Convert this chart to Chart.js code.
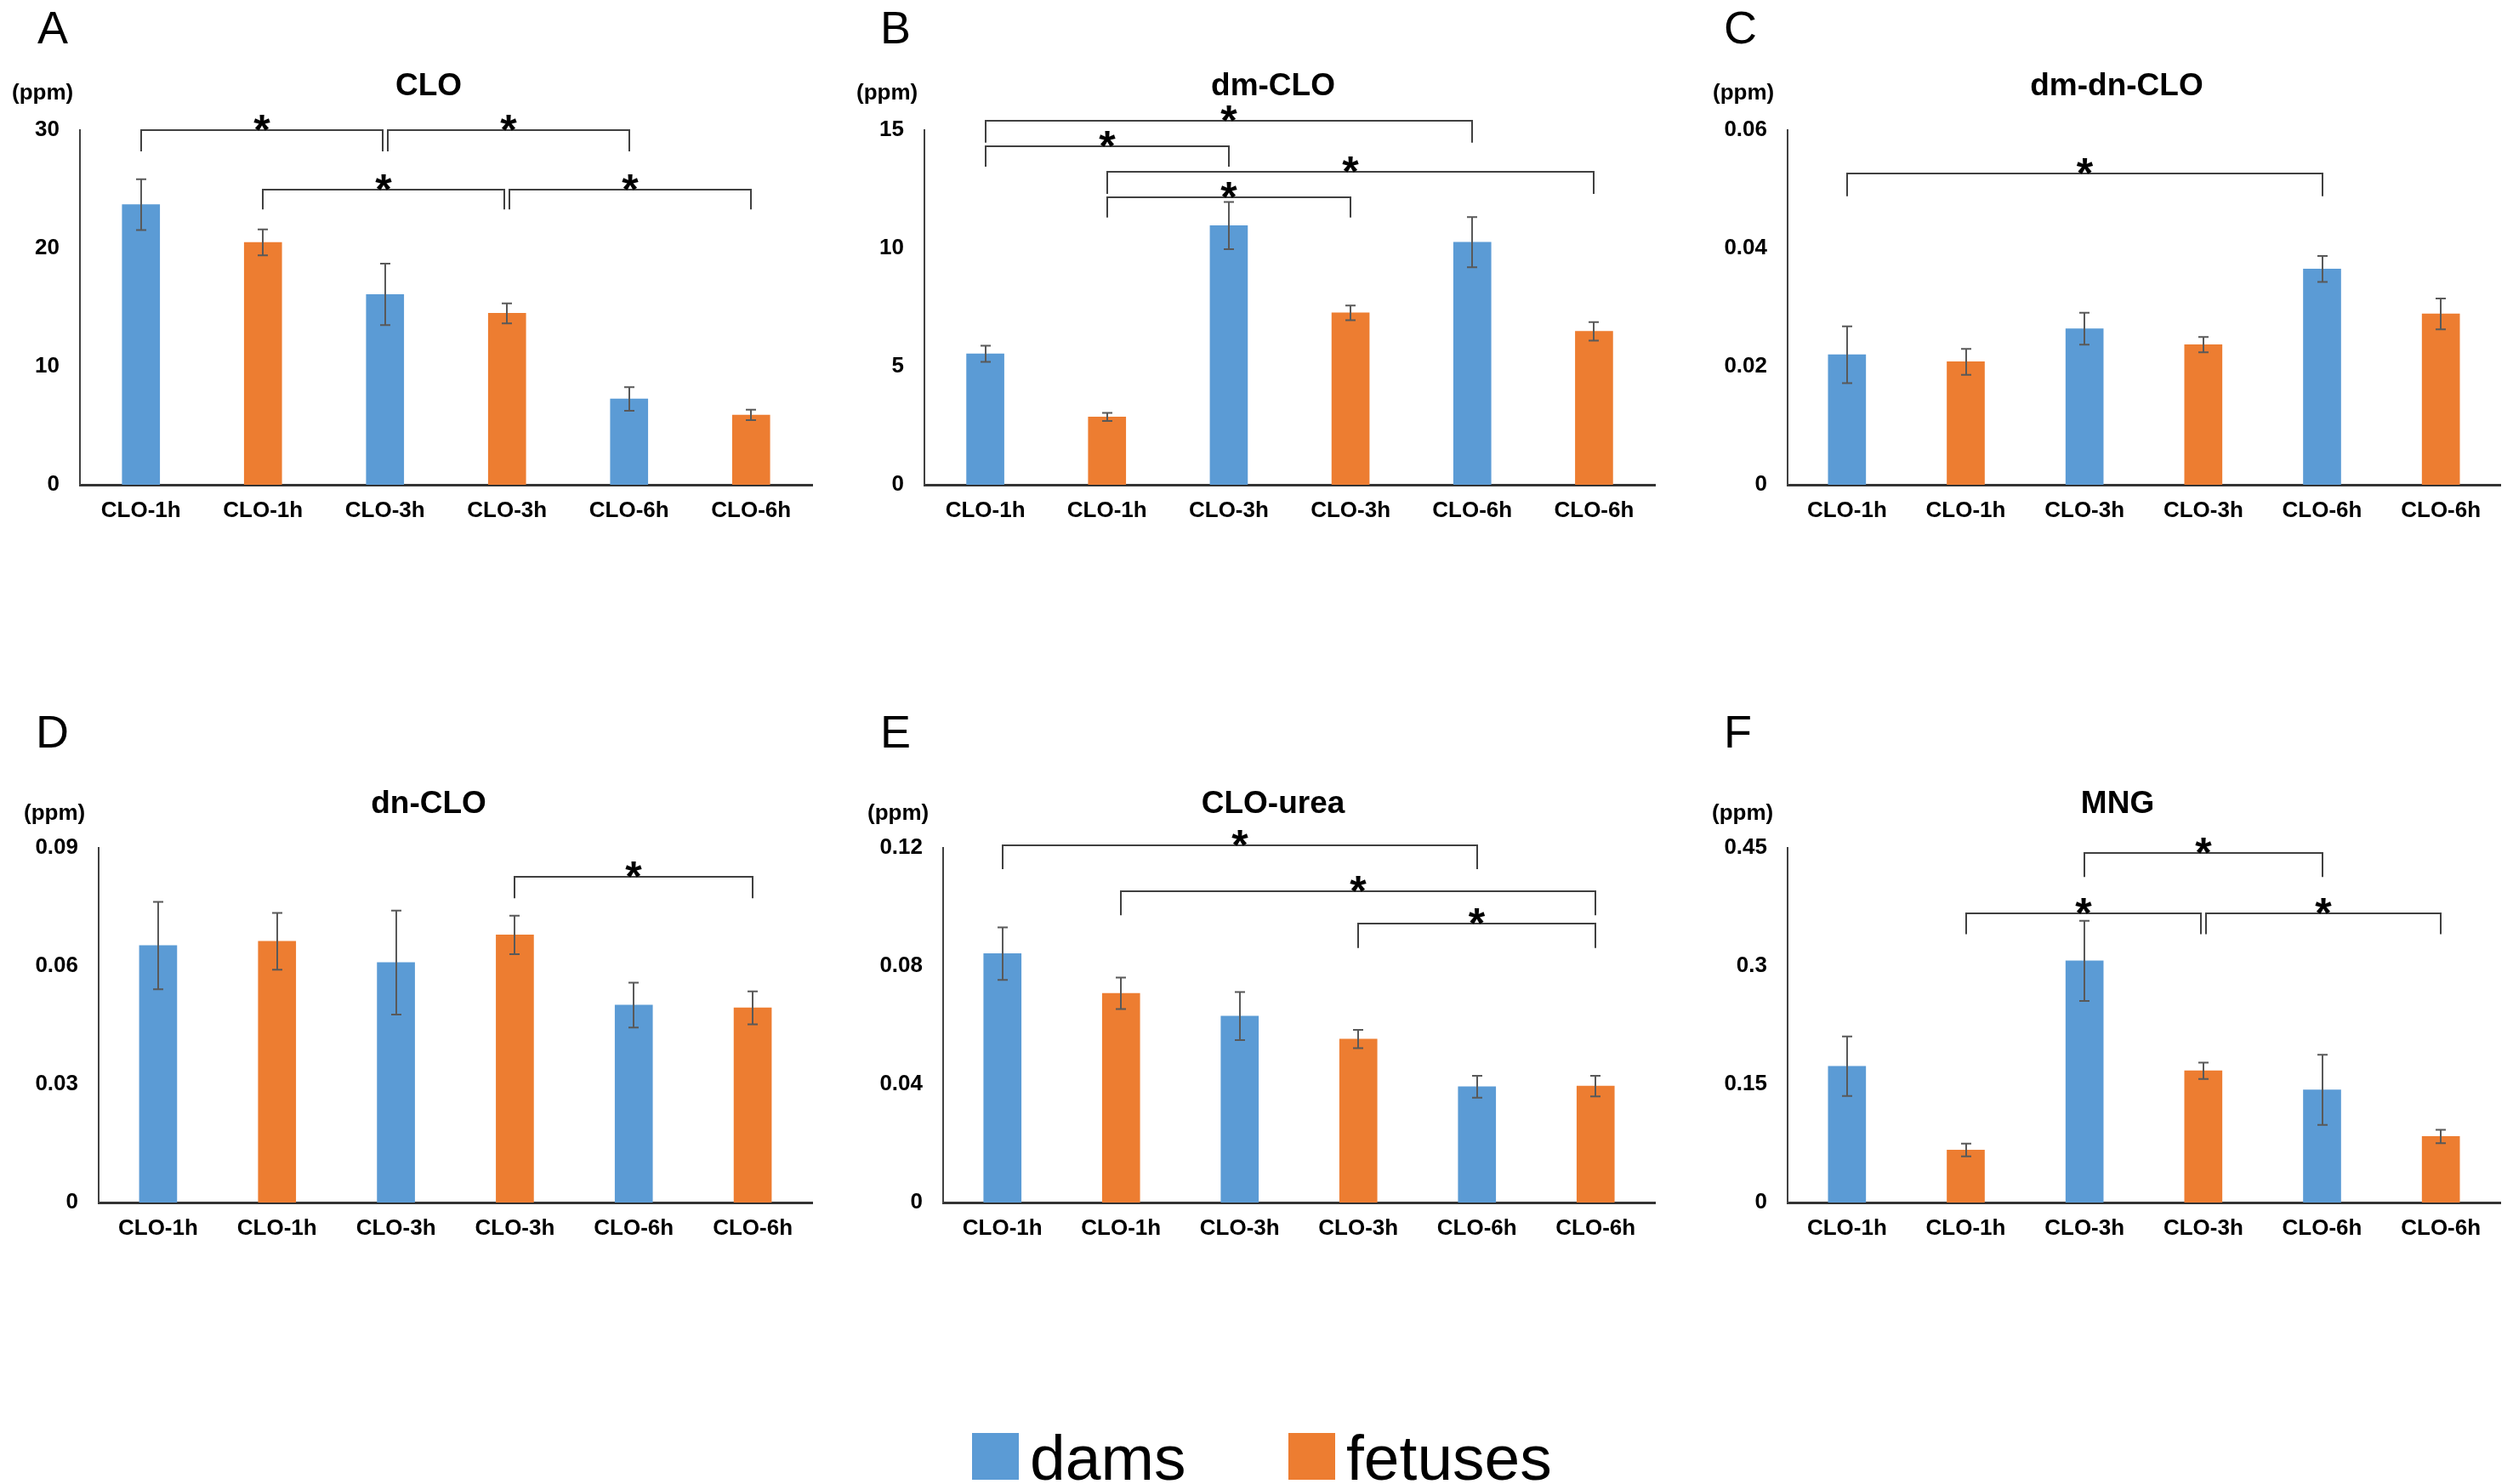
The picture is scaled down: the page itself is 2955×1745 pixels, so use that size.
<!DOCTYPE html>
<html>
<head>
<meta charset="utf-8">
<script src="https://cdn.jsdelivr.net/npm/chart.js@4.4.0/dist/chart.umd.min.js"></script>
<style>
  body { margin:0; background:#fff; width:2955px; height:1745px; position:relative; overflow:hidden;
         font-family:"Liberation Sans", Arial, sans-serif; }
  canvas { position:absolute; }
  .t { position:absolute; line-height:1; white-space:nowrap; color:#000; }
</style>
</head>
<body>
<script>
// ---- data ----
const categories = ['CLO-1h', 'CLO-1h', 'CLO-3h', 'CLO-3h', 'CLO-6h', 'CLO-6h'];
const groups = ['dams', 'fetuses', 'dams', 'fetuses', 'dams', 'fetuses'];
const groupColors = { dams: '#5B9BD5', fetuses: '#ED7D31' };

const cloMean = [23.7, 20.5, 16.1, 14.5, 7.26, 5.9];
const cloErr  = [2.15, 1.1, 2.6, 0.85, 1.0, 0.44];
const cloSig  = [[0, 2, 30, 28.2], [2, 4, 30, 28.2], [1, 3, 25.0, 23.3], [3, 5, 25.0, 23.3]];

const dmMean = [5.54, 2.87, 10.96, 7.27, 10.26, 6.49];
const dmErr  = [0.34, 0.17, 1.0, 0.31, 1.06, 0.39];
const dmSig  = [[0, 4, 15.4, 14.47], [0, 2, 14.3, 13.45], [1, 5, 13.25, 12.3], [1, 3, 12.17, 11.3]];

const dmdnMean = [0.0220, 0.0208, 0.0264, 0.0237, 0.0365, 0.0289];
const dmdnErr  = [0.0048, 0.0022, 0.0027, 0.0013, 0.0022, 0.0026];
const dmdnSig  = [[0, 4, 0.0527, 0.0488]];

const dnMean = [0.0652, 0.0663, 0.0609, 0.0679, 0.0501, 0.0494];
const dnErr  = [0.0111, 0.0072, 0.0132, 0.0049, 0.0057, 0.0042];
const dnSig  = [[3, 5, 0.0826, 0.0772]];

const ureaMean = [0.0842, 0.0708, 0.0631, 0.0553, 0.0392, 0.0394];
const ureaErr  = [0.0089, 0.0053, 0.0081, 0.0031, 0.0037, 0.0035];
const ureaSig  = [[0, 4, 0.121, 0.1128], [1, 5, 0.1053, 0.0972], [3, 5, 0.0944, 0.0861]];

const mngMean = [0.1729, 0.0666, 0.3066, 0.1672, 0.1429, 0.0838];
const mngErr  = [0.0377, 0.008, 0.0509, 0.0104, 0.0445, 0.0084];
const mngSig  = [[2, 4, 0.444, 0.413], [1, 3, 0.367, 0.3406], [3, 5, 0.367, 0.3406]];

const FONT = '"Liberation Sans", Arial, sans-serif';

// panel layout
const panels = [
  { letter:'A', title:'CLO',       mean:cloMean,  err:cloErr,  sig:cloSig,  max:30,   step:10,
    left:0,    top:0,   axisW:94,  padR:30, letterPos:[44,32],   ppmPos:[14,108],   titlePos:[504,99] },
  { letter:'B', title:'dm-CLO',    mean:dmMean,   err:dmErr,   sig:dmSig,   max:15,   step:5,
    left:985,  top:0,   axisW:102, padR:24, letterPos:[1035,32], ppmPos:[1007,108], titlePos:[1497,99] },
  { letter:'C', title:'dm-dn-CLO', mean:dmdnMean, err:dmdnErr, sig:dmdnSig, max:0.06, step:0.02,
    left:1970, top:0,   axisW:132, padR:15, letterPos:[2027,32], ppmPos:[2014,108], titlePos:[2489,99] },
  { letter:'D', title:'dn-CLO',    mean:dnMean,   err:dnErr,   sig:dnSig,   max:0.09, step:0.03,
    left:0,    top:844, axisW:116, padR:30, letterPos:[42,860],  ppmPos:[28,955],   titlePos:[504,943] },
  { letter:'E', title:'CLO-urea',  mean:ureaMean, err:ureaErr, sig:ureaSig, max:0.12, step:0.04,
    left:985,  top:844, axisW:124, padR:24, letterPos:[1035,860],ppmPos:[1020,955], titlePos:[1497,943] },
  { letter:'F', title:'MNG',       mean:mngMean,  err:mngErr,  sig:mngSig,  max:0.45, step:0.15,
    left:1970, top:844, axisW:132, padR:15, letterPos:[2027,860],ppmPos:[2013,955], titlePos:[2490,943] }
];

function addText(txt, x, y, css, center) {
  const d = document.createElement('div');
  d.className = 't';
  d.textContent = txt;
  d.style.cssText += css;
  d.style.left = x + 'px';
  d.style.top = y + 'px';
  d.style.transform = center ? 'translate(-50%,-50%)' : 'translateY(-50%)';
  document.body.appendChild(d);
}

// error bars drawn from the y scale
const errorBars = {
  id: 'errorBars',
  afterDatasetsDraw(chart) {
    const ctx = chart.ctx, ys = chart.scales.y;
    const ds = chart.data.datasets[0], meta = chart.getDatasetMeta(0);
    ctx.save();
    ctx.strokeStyle = '#595959';
    ctx.lineWidth = 2;
    meta.data.forEach((bar, i) => {
      const v = ds.data[i], e = ds.errors[i];
      const x = Math.round(bar.x);
      const yt = ys.getPixelForValue(v + e), yb = ys.getPixelForValue(v - e);
      ctx.beginPath();
      ctx.moveTo(x, yt); ctx.lineTo(x, yb);
      ctx.moveTo(x - 6, yt); ctx.lineTo(x + 6, yt);
      ctx.moveTo(x - 6, yb); ctx.lineTo(x + 6, yb);
      ctx.stroke();
    });
    ctx.restore();
  }
};

// significance brackets with stars
const sigBrackets = {
  id: 'sigBrackets',
  afterDraw(chart, args, opts) {
    const ctx = chart.ctx, ys = chart.scales.y, xs = chart.scales.x;
    const list = opts.list || [];
    ctx.save();
    ctx.font = 'bold 100px ' + FONT;
    const m0 = ctx.measureText('*');
    const fs = 100 * 19 / (m0.actualBoundingBoxAscent + m0.actualBoundingBoxDescent);
    list.forEach(b => {
      const [from, to, level, leg] = b;
      let x1 = Math.round(xs.getPixelForValue(from));
      let x2 = Math.round(xs.getPixelForValue(to));
      if (list.some(o => o !== b && o[2] === level && o[0] === to)) x2 -= 3;
      if (list.some(o => o !== b && o[2] === level && o[1] === from)) x1 += 3;
      const y = Math.round(ys.getPixelForValue(level));
      const yl = ys.getPixelForValue(leg);
      ctx.strokeStyle = '#404040';
      ctx.lineWidth = 2;
      ctx.beginPath();
      ctx.moveTo(x1, yl); ctx.lineTo(x1, y); ctx.lineTo(x2, y); ctx.lineTo(x2, yl);
      ctx.stroke();
      ctx.font = 'bold ' + fs + 'px ' + FONT;
      const m = ctx.measureText('*');
      ctx.fillStyle = '#000';
      ctx.textAlign = 'center';
      ctx.textBaseline = 'alphabetic';
      ctx.fillText('*', (x1 + x2) / 2, y + 1 - m.actualBoundingBoxDescent);
    });
    ctx.restore();
  }
};

panels.forEach(p => {
  const cv = document.createElement('canvas');
  cv.width = 985; cv.height = 640;
  cv.style.left = p.left + 'px';
  cv.style.top = p.top + 'px';
  document.body.appendChild(cv);

  new Chart(cv, {
    type: 'bar',
    data: {
      labels: categories,
      datasets: [{
        data: p.mean,
        errors: p.err,
        backgroundColor: groups.map(g => groupColors[g]),
        barThickness: 44
      }]
    },
    options: {
      responsive: false,
      animation: false,
      devicePixelRatio: 1,
      layout: { padding: { left: 0, right: p.padR, top: 153, bottom: 10 } },
      plugins: {
        legend: { display: false },
        tooltip: { enabled: false },
        sigBrackets: { list: p.sig }
      },
      scales: {
        x: {
          grid: { display: false, drawTicks: false },
          border: { display: true, color: '#333333', width: 3 },
          ticks: { color: '#000', font: { family: FONT, size: 26, weight: 'bold' },
                   padding: 15, maxRotation: 0, autoSkip: false },
          afterFit: s => { s.height = 60; }
        },
        y: {
          min: 0, max: p.max,
          grid: { display: false, drawTicks: false },
          border: { display: true, color: '#404040', width: 2 },
          ticks: { stepSize: p.step, color: '#000', font: { family: FONT, size: 26, weight: 'bold' },
                   padding: 24, callback: v => String(parseFloat(Number(v).toFixed(4))) },
          afterFit: s => { s.width = p.axisW; }
        }
      }
    },
    plugins: [errorBars, sigBrackets]
  });

  addText(p.letter, p.letterPos[0], p.letterPos[1], 'font-size:54px;', false);
  addText('(ppm)', p.ppmPos[0], p.ppmPos[1], 'font-size:26px;font-weight:bold;', false);
  addText(p.title, p.titlePos[0], p.titlePos[1], 'font-size:37px;font-weight:bold;', true);
});

// legend
const legendItems = [
  { name: 'dams',    box: 1143, text: 1211 },
  { name: 'fetuses', box: 1515, text: 1583 }
];
legendItems.forEach(it => {
  const sq = document.createElement('div');
  sq.style.cssText = 'position:absolute;width:55px;height:55px;top:1685px;background:' + groupColors[it.name] + ';left:' + it.box + 'px';
  document.body.appendChild(sq);
  const t = document.createElement('div');
  t.className = 't';
  t.textContent = it.name;
  t.style.fontSize = '75px';
  t.style.left = it.text + 'px';
  t.style.top = (1740 - 0.8465 * 75) + 'px';
  document.body.appendChild(t);
});
</script>
</body>
</html>
